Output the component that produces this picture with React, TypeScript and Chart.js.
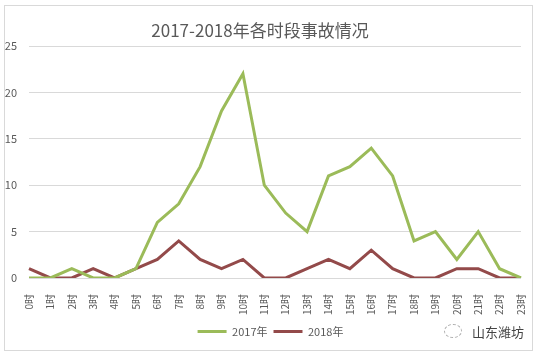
import React, { useEffect, useRef } from "react";
import { Chart, registerables } from "chart.js";

Chart.register(...registerables);

const titleText = "2017-2018年各时段事故情况";
const hours = ["0时","1时","2时","3时","4时","5时","6时","7时","8时","9时","10时","11时","12时","13时","14时","15时","16时","17时","18时","19时","20时","21时","22时","23时"];
const series2017 = [0,0,1,0,0,1,6,8,12,18,22,10,7,5,11,12,14,11,4,5,2,5,1,0];
const series2018 = [1,0,0,1,0,1,2,4,2,1,2,0,0,1,2,1,3,1,0,0,1,1,0,0];
const label2017 = "2017年";
const label2018 = "2018年";
const watermark = "山东潍坊";

const FONT = "'Noto Sans CJK SC', 'Noto Sans', sans-serif";

const titlePlugin = {
  id: "customTitle",
  afterDraw(chart: any) {
    const ctx = chart.ctx;
    ctx.save();
    ctx.font = `17px ${FONT}`;
    ctx.fillStyle = "#595959";
    ctx.textAlign = "center";
    ctx.textBaseline = "middle";
    ctx.fillText(titleText, 260, 31);
    ctx.restore();
  },
};

export default function App() {
  const ref = useRef<HTMLCanvasElement | null>(null);
  useEffect(() => {
    document.body.style.margin = "0";
    const chart = new Chart(ref.current as HTMLCanvasElement, {
      type: "line",
      data: {
        labels: hours,
        datasets: [
          { label: label2017, data: series2017, borderColor: "#9BBB59", backgroundColor: "#9BBB59", borderWidth: 3, pointRadius: 0, tension: 0 },
          { label: label2018, data: series2018, borderColor: "#934A4A", backgroundColor: "#934A4A", borderWidth: 3, pointRadius: 0, tension: 0 },
        ],
      },
      plugins: [titlePlugin],
      options: {
        animation: false,
        responsive: false,
        layout: { padding: { top: 46, bottom: 10, left: 0, right: 0 } },
        plugins: {
          title: { display: false },
          tooltip: { enabled: false },
          legend: {
            display: true,
            position: "bottom",
            labels: {
              usePointStyle: true,
              pointStyle: "line",
              pointStyleWidth: 29,
              padding: 6,
              color: "#595959",
              font: { family: FONT, size: 11 },
            },
          },
        },
        scales: {
          x: {
            grid: { display: false },
            border: { display: false },
            ticks: {
              autoSkip: false,
              minRotation: 90,
              maxRotation: 90,
              padding: 8,
              color: "#595959",
              font: { family: FONT, size: 10 },
            },
            afterFit(s: any) { s.height = 42; },
          },
          y: {
            min: 0,
            max: 25,
            ticks: { stepSize: 5, padding: 12, color: "#595959", font: { family: FONT, size: 11 } },
            grid: { color: "#d9d9d9", drawTicks: false },
            border: { display: false },
            afterFit(s: any) { s.width = 29; },
          },
          y2: {
            type: "linear",
            position: "right",
            display: true,
            grid: { display: false },
            ticks: { display: false },
            border: { display: false },
            afterFit(s: any) { s.width = 20; },
          },
        },
      },
    } as any);
    return () => chart.destroy();
  }, []);

  return (
    <div style={{ position: "relative", width: 541, height: 357, background: "#fff" }}>
      <canvas ref={ref} width={541} height={357} style={{ position: "absolute", left: 0, top: 0 }} />
      <div style={{ position: "absolute", left: 4, top: 5, width: 529, height: 346, border: "1px solid #d9d9d9", boxSizing: "border-box", pointerEvents: "none" }} />
      <div style={{ position: "absolute", left: 444, top: 324, width: 18, height: 14, borderRadius: "50%", border: "1px dashed #aaa", boxSizing: "border-box" }} />
      <div style={{ position: "absolute", left: 472, top: 323, fontFamily: FONT, fontSize: 13, color: "#444", lineHeight: "18px", whiteSpace: "nowrap" }}>{watermark}</div>
    </div>
  );
}
